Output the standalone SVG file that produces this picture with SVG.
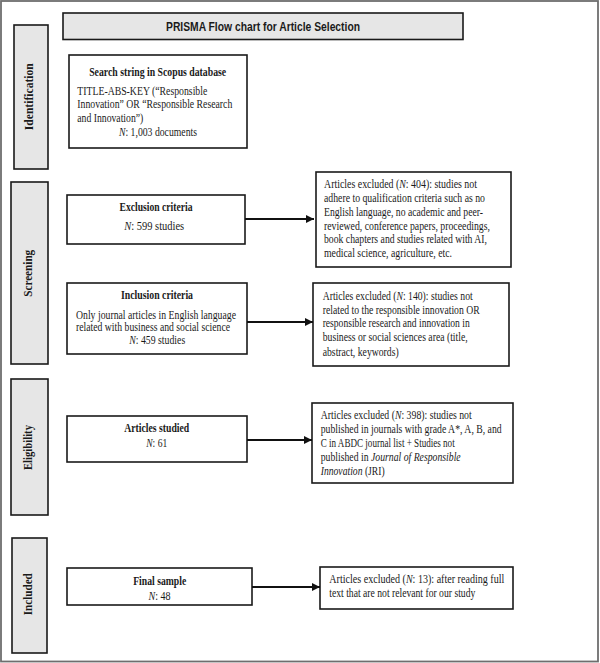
<svg xmlns="http://www.w3.org/2000/svg" width="600" height="663" viewBox="0 0 600 663">
<style>
.box{fill:#fff;stroke:#1a1a1a;stroke-width:1.6}
.side{fill:#e6e6e6;stroke:#1a1a1a;stroke-width:1.6}
.t{font-family:"Liberation Serif","Times New Roman",serif;font-size:11.5px;fill:#1a1a1a}
.b{font-weight:bold}
.m{text-anchor:middle}
.i{font-style:italic}
.lab{font-family:"Liberation Serif","Times New Roman",serif;font-size:12px;font-weight:bold;fill:#1a1a1a;text-anchor:middle}
.conn{stroke:#111;stroke-width:2;fill:none}
</style>
<defs>
<marker id="ah" markerUnits="userSpaceOnUse" markerWidth="9" markerHeight="9" refX="8" refY="4.5" orient="auto">
<path d="M0,0.5 L8,4.5 L0,8.5 Z" fill="#111"/>
</marker>
</defs>
<rect x="0" y="0" width="600" height="663" fill="#fff"/>
<rect x="1" y="1" width="597" height="660.5" fill="none" stroke="#6e6e6e" stroke-width="1.8"/>

<g id="title">
<rect x="63" y="13" width="400" height="26.5" class="side"/>
<text x="263" y="31" font-family="'Liberation Sans',Arial,sans-serif" font-size="12.5" font-weight="bold" text-anchor="middle" fill="#1a1a1a" textLength="194" lengthAdjust="spacingAndGlyphs">PRISMA Flow chart for Article Selection</text>
</g>

<g id="stage-identification">
<rect x="14" y="25" width="34" height="144" class="side"/>
<text class="lab" transform="translate(32.5,96.7) rotate(-90)" textLength="67" lengthAdjust="spacingAndGlyphs">Identification</text>
</g>
<g id="stage-screening">
<rect x="11" y="182" width="37" height="182" class="side"/>
<text class="lab" transform="translate(31.5,273.3) rotate(-90)" textLength="47" lengthAdjust="spacingAndGlyphs">Screening</text>
</g>
<g id="stage-eligibility">
<rect x="11" y="379" width="37" height="136" class="side"/>
<text class="lab" transform="translate(31.5,447.5) rotate(-90)" textLength="45" lengthAdjust="spacingAndGlyphs">Eligibility</text>
</g>
<g id="stage-included">
<rect x="12" y="538" width="35" height="115" class="side"/>
<text class="lab" transform="translate(32,594.2) rotate(-90)" textLength="42" lengthAdjust="spacingAndGlyphs">Included</text>
</g>

<g id="search">
<rect x="69" y="55" width="178" height="93" class="box"/>
<text class="t b m" x="157.7" y="76" textLength="137" lengthAdjust="spacingAndGlyphs">Search string in Scopus database</text>
<text class="t" x="77.3" y="95" textLength="130" lengthAdjust="spacingAndGlyphs">TITLE-ABS-KEY (“Responsible</text>
<text class="t" x="77.3" y="108.3" textLength="155" lengthAdjust="spacingAndGlyphs">Innovation” OR “Responsible Research</text>
<text class="t" x="77.3" y="121.6" textLength="66" lengthAdjust="spacingAndGlyphs">and Innovation”)</text>
<text class="t m" x="158" y="136" textLength="78" lengthAdjust="spacingAndGlyphs"><tspan class="i">N</tspan>: 1,003 documents</text>
</g>

<g id="exclusion">
<rect x="67" y="195" width="178" height="49" class="box"/>
<text class="t b m" x="156" y="211" textLength="73" lengthAdjust="spacingAndGlyphs">Exclusion criteria</text>
<text class="t m" x="154.2" y="230" textLength="60" lengthAdjust="spacingAndGlyphs"><tspan class="i">N</tspan>: 599 studies</text>
</g>

<g id="excluded-404">
<rect x="316" y="172" width="195" height="95" class="box"/>
<text class="t" x="324" y="188" textLength="153" lengthAdjust="spacingAndGlyphs">Articles excluded (<tspan class="i">N</tspan>: 404): studies not</text>
<text class="t" x="324" y="201.7" textLength="161" lengthAdjust="spacingAndGlyphs">adhere to qualification criteria such as no</text>
<text class="t" x="324" y="215.7" textLength="159" lengthAdjust="spacingAndGlyphs">English language, no academic and peer-</text>
<text class="t" x="324" y="229.7" textLength="166" lengthAdjust="spacingAndGlyphs">reviewed, conference papers, proceedings,</text>
<text class="t" x="324" y="243.3" textLength="163" lengthAdjust="spacingAndGlyphs">book chapters and studies related with AI,</text>
<text class="t" x="324" y="257.3" textLength="128" lengthAdjust="spacingAndGlyphs">medical science, agriculture, etc.</text>
</g>

<g id="inclusion">
<rect x="67" y="283" width="180" height="71" class="box"/>
<text class="t b m" x="157" y="299" textLength="72" lengthAdjust="spacingAndGlyphs">Inclusion criteria</text>
<text class="t m" x="156" y="318.5" textLength="160" lengthAdjust="spacingAndGlyphs">Only journal articles in English language</text>
<text class="t m" x="153" y="330.5" textLength="154" lengthAdjust="spacingAndGlyphs">related with business and social science</text>
<text class="t m" x="157.2" y="344" textLength="56" lengthAdjust="spacingAndGlyphs"><tspan class="i">N</tspan>: 459 studies</text>
</g>

<g id="excluded-140">
<rect x="313" y="283" width="196" height="83" class="box"/>
<text class="t" x="322.7" y="300" textLength="150" lengthAdjust="spacingAndGlyphs">Articles excluded (<tspan class="i">N</tspan>: 140): studies not</text>
<text class="t" x="322.7" y="314" textLength="157" lengthAdjust="spacingAndGlyphs">related to the responsible innovation OR</text>
<text class="t" x="322.7" y="327.3" textLength="147" lengthAdjust="spacingAndGlyphs">responsible research and innovation in</text>
<text class="t" x="322.7" y="341" textLength="145" lengthAdjust="spacingAndGlyphs">business or social sciences area (title,</text>
<text class="t" x="322.7" y="355.7" textLength="76" lengthAdjust="spacingAndGlyphs">abstract, keywords)</text>
</g>

<g id="articles-studied">
<rect x="67" y="416" width="180" height="46" class="box"/>
<text class="t b m" x="156.7" y="432.3" textLength="65" lengthAdjust="spacingAndGlyphs">Articles studied</text>
<text class="t m" x="156.7" y="446.7" textLength="21" lengthAdjust="spacingAndGlyphs"><tspan class="i">N</tspan>: 61</text>
</g>

<g id="excluded-398">
<rect x="312" y="403" width="201" height="80" class="box"/>
<text class="t" x="320.7" y="419" textLength="151" lengthAdjust="spacingAndGlyphs">Articles excluded (<tspan class="i">N</tspan>: 398): studies not</text>
<text class="t" x="320.7" y="433" textLength="181" lengthAdjust="spacingAndGlyphs">published in journals with grade A*, A, B, and</text>
<text class="t" x="320.7" y="446.7" textLength="134" lengthAdjust="spacingAndGlyphs">C in ABDC journal list + Studies not</text>
<text class="t" x="320.7" y="460.7" textLength="140" lengthAdjust="spacingAndGlyphs">published in <tspan class="i">Journal of Responsible</tspan></text>
<text class="t" x="320.7" y="474.7" textLength="64" lengthAdjust="spacingAndGlyphs"><tspan class="i">Innovation</tspan> (JRI)</text>
</g>

<g id="final-sample">
<rect x="67" y="568" width="185" height="37" class="box"/>
<text class="t b m" x="159.7" y="584.7" textLength="53" lengthAdjust="spacingAndGlyphs">Final sample</text>
<text class="t m" x="159.5" y="600" textLength="22" lengthAdjust="spacingAndGlyphs"><tspan class="i">N</tspan>: 48</text>
</g>

<g id="excluded-13">
<rect x="320" y="567" width="193" height="42" class="box"/>
<text class="t" x="329.3" y="583.3" textLength="175" lengthAdjust="spacingAndGlyphs">Articles excluded (<tspan class="i">N</tspan>: 13): after reading full</text>
<text class="t" x="329.3" y="596.7" textLength="146" lengthAdjust="spacingAndGlyphs">text that are not relevant for our study</text>
</g>

<g id="connectors">
<line class="conn" x1="245" y1="219" x2="314" y2="219" marker-end="url(#ah)"/>
<line class="conn" x1="247" y1="322" x2="313" y2="322" marker-end="url(#ah)"/>
<line class="conn" x1="247" y1="440" x2="312" y2="440" marker-end="url(#ah)"/>
<line class="conn" x1="252" y1="587" x2="320" y2="587" marker-end="url(#ah)"/>
</g>
</svg>
